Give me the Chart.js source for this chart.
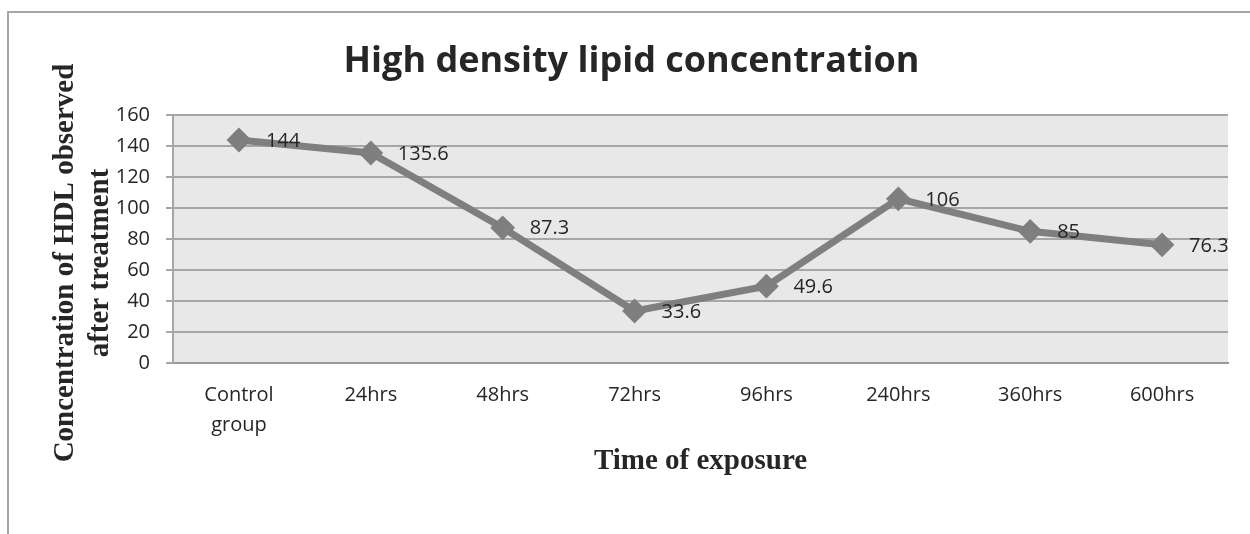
<!DOCTYPE html>
<html>
<head>
<meta charset="utf-8">
<script src="https://cdn.jsdelivr.net/npm/chart.js@4"></script>
<style>
  body { margin: 0; background: #fff; }
  #wrap { width: 1250px; height: 534px; position: relative; }
</style>
</head>
<body>
<div id="wrap"><canvas id="chartA"></canvas></div>
<script>
const categories = [['Control', 'group'], '24hrs', '48hrs', '72hrs', '96hrs', '240hrs', '360hrs', '600hrs'];
const hdlValues = [144, 135.6, 87.3, 33.6, 49.6, 106, 85, 76.3];
const yTicks = [0, 20, 40, 60, 80, 100, 120, 140, 160];
const yTitleLines = ['Concentration of HDL observed', 'after treatment'];

const textColor = '#262626';
Chart.defaults.font.family = '"Open Sans", sans-serif';
Chart.defaults.color = textColor;

// frame + grey plot background
const backdrop = {
    id: 'backdrop',
    beforeDraw(chart) {
        const {ctx, chartArea: a} = chart;
        ctx.save();
        ctx.strokeStyle = '#a6a6a6';
        ctx.lineWidth = 2;
        ctx.strokeRect(8, 12, 1400, 700);
        ctx.fillStyle = '#e8e8e8';
        ctx.fillRect(a.left, a.top, a.right - a.left, a.bottom - a.top);
        ctx.restore();
    }
};

// rotated two-line y title, sits a bit lower than the axis middle
const yTitle = {
    id: 'yTitle',
    afterDraw(chart) {
        const ctx = chart.ctx;
        ctx.save();
        ctx.font = 'bold 29px "Liberation Serif"';
        ctx.fillStyle = textColor;
        ctx.textAlign = 'center';
        ctx.textBaseline = 'middle';
        yTitleLines.forEach((line, i) => {
            ctx.save();
            ctx.translate(66 + i * 35, 263);
            ctx.rotate(-Math.PI / 2);
            ctx.fillText(line, 0, 0);
            ctx.restore();
        });
        ctx.restore();
    }
};

// value labels to the right of each marker
const valueLabels = {
    id: 'valueLabels',
    afterDatasetsDraw(chart) {
        const ctx = chart.ctx;
        const meta = chart.getDatasetMeta(0);
        ctx.save();
        ctx.font = '20px "Open Sans"';
        ctx.fillStyle = textColor;
        ctx.textBaseline = 'middle';
        ctx.textAlign = 'left';
        meta.data.forEach((pt, i) => {
            ctx.fillText(String(hdlValues[i]), pt.x + 27, pt.y + 1);
        });
        ctx.restore();
    }
};

const data = {
    labels: categories,
    datasets: [{
        label: 'HDL',
        data: hdlValues,
        borderColor: '#7f7f7f',
        backgroundColor: '#7f7f7f',
        borderWidth: 7,
        pointStyle: 'rectRot',
        pointRadius: 11,
        pointBorderWidth: 2,
        pointBackgroundColor: '#7f7f7f',
        pointBorderColor: '#7f7f7f',
        tension: 0,
    }],
};

const config = {
    type: 'line',
    data: data,
    options: {
        responsive: true,
        maintainAspectRatio: false,
        animation: false,
        layout: {padding: {left: 35, right: 22, top: 0, bottom: 0}},
        plugins: {
            legend: {display: false},
            tooltip: {enabled: false},
            title: {
                display: true,
                text: 'High density lipid concentration',
                color: textColor,
                font: {size: 36, weight: 'bold', family: '"Open Sans"'},
                padding: {top: 40, bottom: 32},
            },
        },
        scales: {
            x: {
                offset: true,
                grid: {display: false, drawTicks: false},
                border: {display: true, color: '#9a9a9a', width: 2},
                ticks: {font: {size: 20, lineHeight: 1.5}, padding: 17, maxRotation: 0},
                title: {
                    display: true,
                    text: 'Time of exposure',
                    color: textColor,
                    font: {family: '"Liberation Serif"', size: 29, weight: 'bold'},
                    padding: {top: 0, bottom: 55},
                },
                afterFit: (scale) => { scale.height = 171; },
            },
            y: {
                min: 0,
                max: 160,
                afterBuildTicks: (scale) => { scale.ticks = yTicks.map(v => ({value: v})); },
                grid: {color: '#a6a6a6', lineWidth: 2, tickLength: 7},
                border: {display: true, color: '#a6a6a6', width: 2},
                ticks: {font: {size: 20}, padding: 16},
                afterFit: (scale) => { scale.width = 138; },
            },
        },
    },
    plugins: [backdrop, yTitle, valueLabels],
};

const chartEle = document.getElementById('chartA').getContext('2d');
const chartA = new Chart(chartEle, config);
</script>
</body>
</html>
